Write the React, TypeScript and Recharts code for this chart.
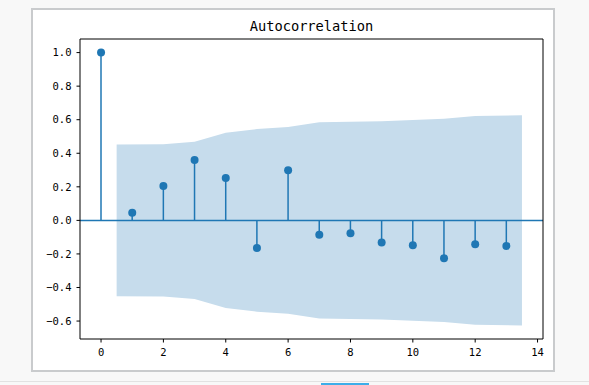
import React from 'react';
import {
  ComposedChart,
  Area,
  Bar,
  Scatter,
  XAxis,
  YAxis,
  ReferenceLine,
} from 'recharts';

// ACF values per lag
const lags = [0, 1, 2, 3, 4, 5, 6, 7, 8, 9, 10, 11, 12, 13];
const acfValues = [
  1.0, 0.045, 0.205, 0.36, 0.253, -0.164, 0.299, -0.086, -0.076, -0.132, -0.148, -0.225, -0.142,
  -0.152,
];

// confidence band (half width), first/last lag shifted by 0.5 like statsmodels
const bandLags = [0.5, 2, 3, 4, 5, 6, 7, 8, 9, 10, 11, 12, 13.5];
const bandValues = [
  0.452, 0.454, 0.468, 0.522, 0.544, 0.556, 0.585, 0.588, 0.591, 0.598, 0.606, 0.622, 0.626,
];

const xTicks = [0, 2, 4, 6, 8, 10, 12, 14];
const yTicks = [-0.6, -0.4, -0.2, 0.0, 0.2, 0.4, 0.6, 0.8, 1.0];

const xDomain = [-0.675, 14.175];
const yDomain = [-0.707, 1.081];

const BLUE = '#1f77b4';

type Row = { lag: number; acf?: number; band?: [number, number] };

const rows: Row[] = [];
lags.forEach((lag, i) => rows.push({ lag, acf: acfValues[i] }));
bandLags.forEach((lag, i) => {
  const found = rows.find(r => r.lag === lag);
  const band: [number, number] = [-bandValues[i], bandValues[i]];
  if (found) found.band = band;
  else rows.push({ lag, band });
});
rows.sort((a, b) => a.lag - b.lag);

const stemRows = lags.map((lag, i) => ({ lag, acf: acfValues[i] }));

const fmt = (v: number) => v.toFixed(1).replace('-', '\u2212');

const tickStyle = { fontFamily: '"DejaVu Sans Mono", monospace', fontSize: 10.5, fill: '#000' };

const Dot = (props: any) => <circle cx={props.cx} cy={props.cy} r={4} fill={BLUE} />;

const App: React.FC = () => {
  return (
    <div
      style={{
        position: 'fixed',
        left: 0,
        top: 0,
        width: 589,
        height: 385,
        background: '#f8f8f8',
        overflow: 'hidden',
      }}
    >
      {/* image frame */}
      <div
        style={{
          position: 'absolute',
          left: 31,
          top: 8,
          width: 520,
          height: 360,
          background: '#fff',
          border: '2px solid #c9cbcd',
        }}
      />
      {/* bottom strip */}
      <div style={{ position: 'absolute', left: 0, top: 381, width: 589, height: 1, background: '#e2e2e2' }} />
      <div style={{ position: 'absolute', left: 321, top: 383, width: 48, height: 2, background: '#3daee9' }} />

      <svg style={{ position: 'absolute', left: 0, top: 0 }} width={589} height={60}>
        <text
          x={311.5}
          y={30.5}
          textAnchor="middle"
          fontFamily='"DejaVu Sans Mono", monospace'
          fontSize={13.7}
          fill="#000"
        >
          Autocorrelation
        </text>
      </svg>

      <div style={{ position: 'absolute', left: 0, top: 0 }}>
        <ComposedChart
          width={589}
          height={385}
          data={rows}
          margin={{ top: 39, right: 46, bottom: 16, left: 30 }}
        >
          <XAxis
            dataKey="lag"
            type="number"
            domain={xDomain}
            ticks={xTicks}
            allowDataOverflow
            height={30}
            tickSize={3.5}
            tickMargin={6}
            tick={tickStyle}
            axisLine={{ stroke: '#000', strokeWidth: 1 }}
            tickLine={{ stroke: '#000', strokeWidth: 1 }}
          />
          <YAxis
            type="number"
            domain={yDomain}
            ticks={yTicks}
            allowDataOverflow
            width={50}
            tickSize={3.5}
            tickMargin={5}
            tickFormatter={fmt}
            tick={tickStyle}
            axisLine={{ stroke: '#000', strokeWidth: 1 }}
            tickLine={{ stroke: '#000', strokeWidth: 1 }}
          />
          <Area
            type="linear"
            dataKey="band"
            stroke="none"
            fill="#c6dcec"
            fillOpacity={1}
            connectNulls
            isAnimationActive={false}
            activeDot={false}
          />
          <Bar dataKey="acf" fill={BLUE} barSize={1.5} isAnimationActive={false} />
          <ReferenceLine y={0} stroke={BLUE} strokeWidth={1.5} />
          <Scatter data={stemRows} dataKey="acf" shape={Dot} isAnimationActive={false} />
          {/* top and right spines */}
          <ReferenceLine y={yDomain[1]} stroke="#000" strokeWidth={1} />
          <ReferenceLine x={xDomain[1]} stroke="#000" strokeWidth={1} />
        </ComposedChart>
      </div>
    </div>
  );
};

export default App;
